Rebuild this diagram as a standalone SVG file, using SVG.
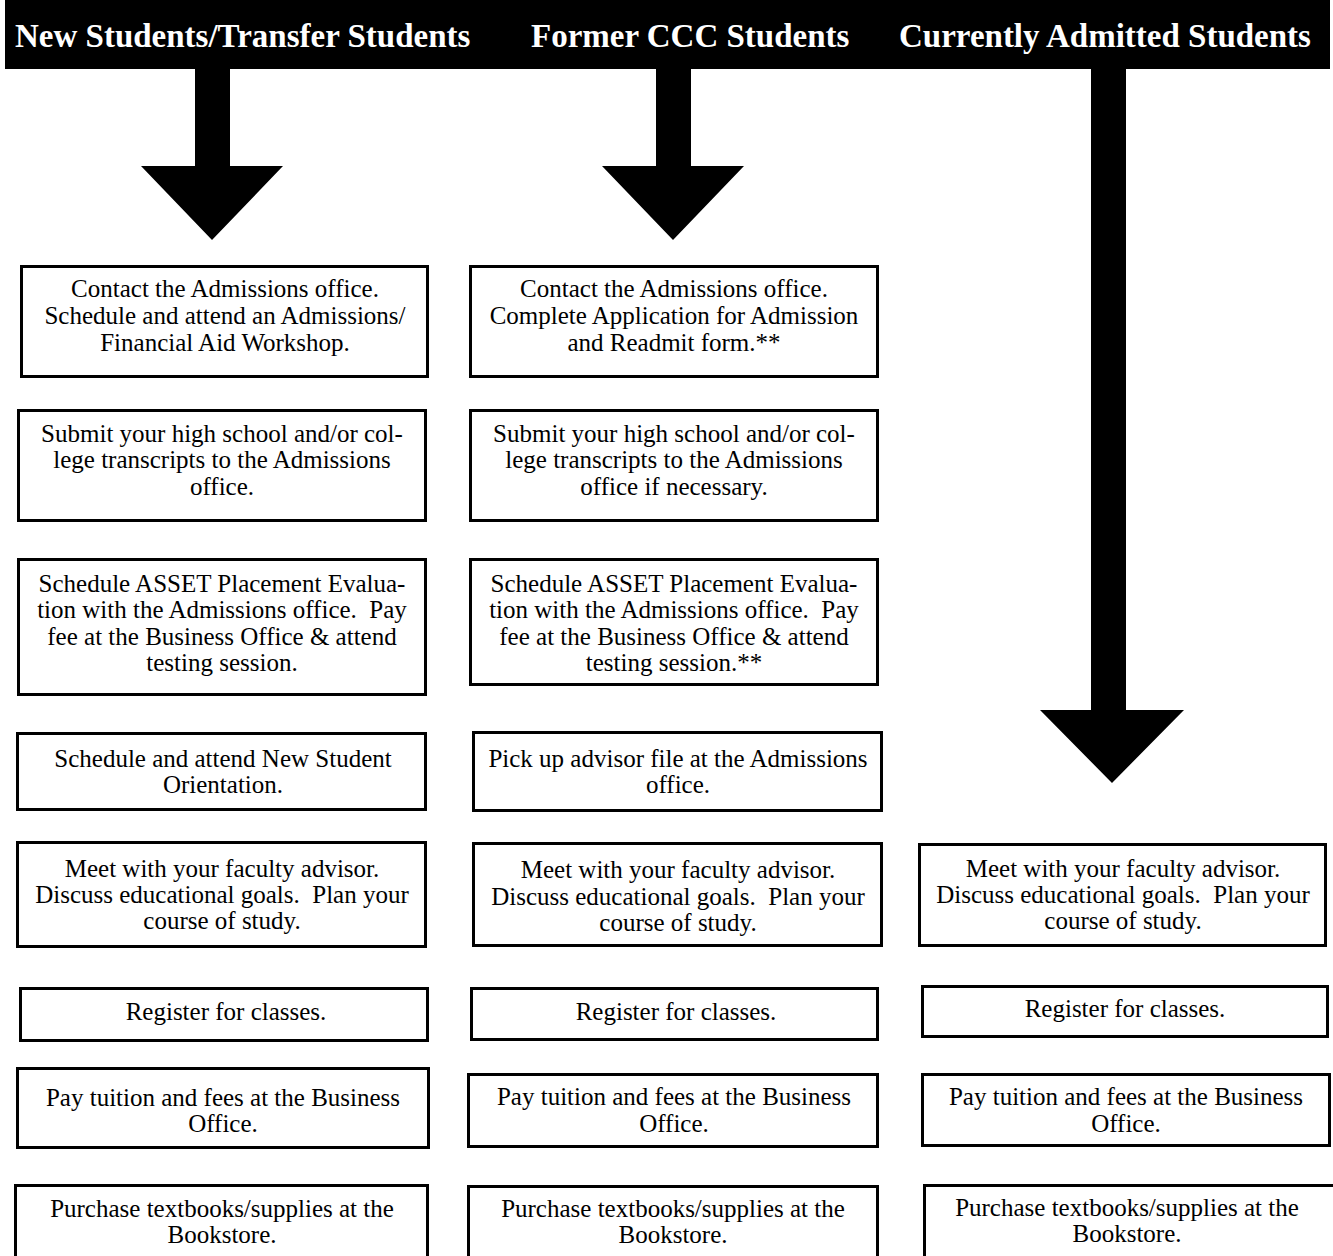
<svg xmlns="http://www.w3.org/2000/svg" width="1333" height="1256" viewBox="0 0 1333 1256">
<style>
.box{fill:#fff;stroke:#000;stroke-width:3}
.t{font-family:"Liberation Serif","Times New Roman",serif;font-size:25px;text-anchor:middle;fill:#000;white-space:pre}
.h{font-family:"Liberation Serif","Times New Roman",serif;font-weight:bold;font-size:33px;fill:#fff}
.arrow{fill:#000}
</style>
<rect width="1333" height="1256" fill="#fff"/>
<g id="header">
<rect x="5" y="0" width="1325" height="69" fill="#000"/>
<text class="h" x="15" y="47">New Students/Transfer Students</text>
<text class="h" x="531" y="47">Former CCC Students</text>
<text class="h" x="899" y="47">Currently Admitted Students</text>
</g>
<g id="connectors">
<path class="arrow" d="M195,69 L230,69 L230,166 L283,166 L212,240 L141,166 L195,166 Z"/>
<path class="arrow" d="M656,69 L691,69 L691,166 L744,166 L673,240 L602,166 L656,166 Z"/>
<path class="arrow" d="M1091,69 L1126,69 L1126,710 L1184,710 L1112,783 L1040,710 L1091,710 Z"/>
</g>
<g id="c1b1"><rect class="box" x="21.5" y="266.5" width="406" height="110"/>
<text class="t" x="225" y="297">Contact the Admissions office.</text>
<text class="t" x="225" y="324">Schedule and attend an Admissions/</text>
<text class="t" x="225" y="351">Financial Aid Workshop.</text></g>
<g id="c1b2"><rect class="box" x="18.5" y="410.5" width="407" height="110"/>
<text class="t" x="222" y="442">Submit your high school and/or col-</text>
<text class="t" x="222" y="468">lege transcripts to the Admissions</text>
<text class="t" x="222" y="495">office.</text></g>
<g id="c1b3"><rect class="box" x="18.5" y="559.5" width="407" height="135"/>
<text class="t" x="222" y="592">Schedule ASSET Placement Evalua-</text>
<text class="t" x="222" y="618">tion with the Admissions office.  Pay</text>
<text class="t" x="222" y="645">fee at the Business Office &amp; attend</text>
<text class="t" x="222" y="671">testing session.</text></g>
<g id="c1b4"><rect class="box" x="17.5" y="733.5" width="408" height="76"/>
<text class="t" x="223" y="767">Schedule and attend New Student</text>
<text class="t" x="223" y="793">Orientation.</text></g>
<g id="c1b5"><rect class="box" x="17.5" y="842.5" width="408" height="104"/>
<text class="t" x="222" y="877">Meet with your faculty advisor.</text>
<text class="t" x="222" y="903">Discuss educational goals.  Plan your</text>
<text class="t" x="222" y="929">course of study.</text></g>
<g id="c1b6"><rect class="box" x="20.5" y="988.5" width="407" height="52"/>
<text class="t" x="226" y="1020">Register for classes.</text></g>
<g id="c1b7"><rect class="box" x="17.5" y="1068.5" width="411" height="79"/>
<text class="t" x="223" y="1106">Pay tuition and fees at the Business</text>
<text class="t" x="223" y="1132">Office.</text></g>
<g id="c1b8"><rect class="box" x="15.5" y="1185.5" width="412" height="80"/>
<text class="t" x="222" y="1217">Purchase textbooks/supplies at the</text>
<text class="t" x="222" y="1243">Bookstore.</text></g>
<g id="c2b1"><rect class="box" x="470.5" y="266.5" width="407" height="110"/>
<text class="t" x="674" y="297">Contact the Admissions office.</text>
<text class="t" x="674" y="324">Complete Application for Admission</text>
<text class="t" x="674" y="351">and Readmit form.**</text></g>
<g id="c2b2"><rect class="box" x="470.5" y="410.5" width="407" height="110"/>
<text class="t" x="674" y="442">Submit your high school and/or col-</text>
<text class="t" x="674" y="468">lege transcripts to the Admissions</text>
<text class="t" x="674" y="495">office if necessary.</text></g>
<g id="c2b3"><rect class="box" x="470.5" y="559.5" width="407" height="125"/>
<text class="t" x="674" y="592">Schedule ASSET Placement Evalua-</text>
<text class="t" x="674" y="618">tion with the Admissions office.  Pay</text>
<text class="t" x="674" y="645">fee at the Business Office &amp; attend</text>
<text class="t" x="674" y="671">testing session.**</text></g>
<g id="c2b4"><rect class="box" x="473.5" y="732.5" width="408" height="78"/>
<text class="t" x="678" y="767">Pick up advisor file at the Admissions</text>
<text class="t" x="678" y="793">office.</text></g>
<g id="c2b5"><rect class="box" x="473.5" y="843.5" width="408" height="102"/>
<text class="t" x="678" y="878">Meet with your faculty advisor.</text>
<text class="t" x="678" y="905">Discuss educational goals.  Plan your</text>
<text class="t" x="678" y="931">course of study.</text></g>
<g id="c2b6"><rect class="box" x="471.5" y="988.5" width="406" height="51"/>
<text class="t" x="676" y="1020">Register for classes.</text></g>
<g id="c2b7"><rect class="box" x="468.5" y="1074.5" width="409" height="72"/>
<text class="t" x="674" y="1105">Pay tuition and fees at the Business</text>
<text class="t" x="674" y="1132">Office.</text></g>
<g id="c2b8"><rect class="box" x="468.5" y="1186.5" width="409" height="80"/>
<text class="t" x="673" y="1217">Purchase textbooks/supplies at the</text>
<text class="t" x="673" y="1243">Bookstore.</text></g>
<g id="c3b5"><rect class="box" x="919.5" y="844.5" width="406" height="101"/>
<text class="t" x="1123" y="877">Meet with your faculty advisor.</text>
<text class="t" x="1123" y="903">Discuss educational goals.  Plan your</text>
<text class="t" x="1123" y="929">course of study.</text></g>
<g id="c3b6"><rect class="box" x="922.5" y="986.5" width="405" height="50"/>
<text class="t" x="1125" y="1017">Register for classes.</text></g>
<g id="c3b7"><rect class="box" x="922.5" y="1074.5" width="407" height="71"/>
<text class="t" x="1126" y="1105">Pay tuition and fees at the Business</text>
<text class="t" x="1126" y="1132">Office.</text></g>
<g id="c3b8"><rect class="box" x="924.5" y="1185.5" width="410" height="80"/>
<text class="t" x="1127" y="1216">Purchase textbooks/supplies at the</text>
<text class="t" x="1127" y="1242">Bookstore.</text></g>
</svg>
